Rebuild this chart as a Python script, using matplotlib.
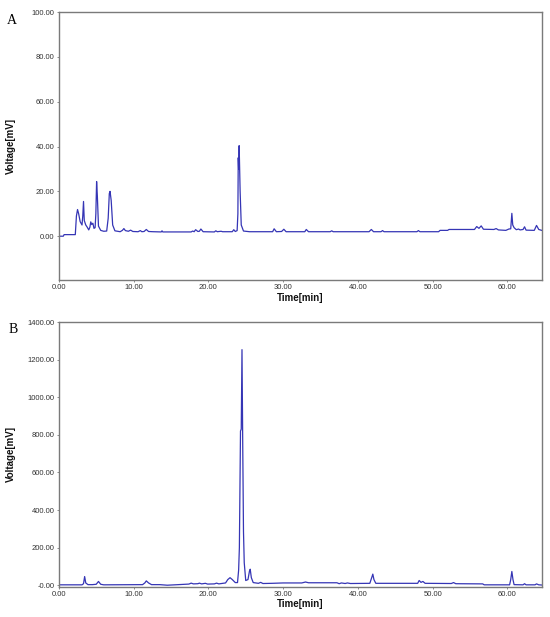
"""Two chromatograms (A and B), voltage vs retention time."""

import matplotlib
matplotlib.use("Agg")
import matplotlib.pyplot as plt

### Data: (time [min], voltage [mV]) vertices

time_a = [0.0, 0.6, 0.7, 2.2, 2.35, 2.5, 2.65, 2.85, 3.1, 3.2, 3.3, 3.4, 3.6, 3.8,
          4.0, 4.15, 4.27, 4.4, 4.55, 4.7, 4.85, 4.95, 5.05, 5.15, 5.3, 5.6, 6.0,
          6.4, 6.6, 6.75, 6.85, 7.0, 7.2, 7.5, 8.2, 8.5, 8.7, 8.9, 9.3, 9.6, 9.9,
          10.6, 10.9, 11.1, 11.4, 11.7, 12.0, 12.6, 13.7, 13.8, 13.9, 17.7, 17.9,
          18.1, 18.3, 18.6, 18.8, 19.0, 19.3, 20.8, 21.0, 21.2, 21.7, 21.9, 23.2,
          23.4, 23.6, 23.85, 23.95, 24.0, 24.05, 24.12, 24.25, 24.4, 24.7, 25.5,
          28.6, 28.8, 29.1, 29.8, 30.1, 30.4, 32.9, 33.1, 33.4, 36.3, 36.5, 36.7,
          41.5, 41.8, 42.1, 43.1, 43.3, 43.5, 47.9, 48.1, 48.3, 50.8, 51.0, 52.0,
          52.2, 55.6, 55.9, 56.2, 56.5, 56.8, 58.2, 58.5, 58.8, 59.8, 60.2, 60.45,
          60.6, 60.72, 60.9, 61.2, 61.5, 61.7, 62.1, 62.3, 62.5, 63.6, 63.9, 64.2,
          64.6]
volt_a = [0.0, 0.0, 0.7, 0.7, 9, 11.9, 10, 6.5, 5, 9, 15.5, 7, 5, 4,
          2.8, 4, 6.4, 5.2, 5.8, 3.5, 3.8, 10, 24.4, 18, 4.5, 2.6, 2.2,
          2.3, 8, 19, 20, 16, 5, 2.4, 2.0, 2.6, 3.4, 2.5, 2.2, 2.7, 2.1,
          2.0, 2.5, 2.0, 2.1, 3.0, 2.1, 2.0, 1.9, 2.4, 1.9, 1.9, 2.3,
          2.0, 2.9, 2.1, 2.2, 3.2, 2.0, 1.9, 2.4, 2.0, 2.2, 2.0, 2.0,
          2.9, 2.1, 2.5, 10, 35, 30, 40.4, 20, 5, 2.3, 2.0,
          2.0, 3.3, 2.0, 2.1, 3.1, 2.0, 2.0, 3.0, 2.0, 2.0, 2.4, 2.0,
          2.0, 3.0, 2.0, 2.0, 2.5, 2.0, 2.0, 2.5, 2.0, 2.0, 2.6, 2.6,
          3.0, 3.0, 4.3, 3.5, 4.6, 3.1, 3.0, 3.4, 2.8, 2.6, 3.2, 3.3,
          10.2, 5, 3.8, 2.9, 3.2, 2.8, 3.0, 4.2, 2.7, 2.6, 4.8, 3.0,
          2.6]

time_b = [0.0, 3.1, 3.3, 3.45, 3.6, 3.9, 4.5, 5.0, 5.3, 5.6, 6.0, 11.2, 11.5,
          11.7, 12.0, 12.4, 13.5, 14.5, 15.5, 17.4, 17.7, 18.0, 18.6, 18.8, 19.1,
          19.6, 19.9, 20.8, 21.1, 21.4, 22.3, 22.6, 22.9, 23.2, 23.6, 23.9, 24.05,
          24.15, 24.3, 24.4, 24.5, 24.6, 24.7, 24.8, 25.0, 25.3, 25.5, 25.6, 25.75,
          26.0, 26.7, 27.0, 27.3, 28.5, 30.0, 32.5, 33.0, 33.4, 37.2, 37.5, 37.8,
          38.3, 38.6, 39.0, 41.6, 41.85, 42.0, 42.15, 42.4, 48.0, 48.2, 48.45,
          48.7, 49.0, 52.5, 52.8, 53.1, 56.7, 56.9, 60.3, 60.45, 60.6, 60.75,
          60.9, 62.1, 62.3, 62.5, 63.7, 63.9, 64.2, 64.6]
volt_b = [2, 2, 8, 46, 12, 3, 3, 5, 20, 5, 2, 3, 12,
          23, 12, 3, 3, 0, 2, 6, 11, 7, 8, 11, 7,
          10, 6, 7, 11, 7, 12, 30, 40, 30, 14, 14, 80,
          200, 820, 830, 1253, 740, 285, 120, 25, 30, 75, 85, 40,
          14, 10, 15, 9, 10, 12, 12, 17, 13, 13, 8, 12,
          9, 12, 9, 10, 40, 59, 30, 10, 10, 25, 15,
          20, 10, 9, 14, 8, 7, 2, 2, 30, 73, 30,
          3, 2, 8, 2, 2, 7, 2, 1]

x_ticks = [0, 10, 20, 30, 40, 50, 60]
y_ticks_a = [0, 20, 40, 60, 80, 100]
y_ticks_b = [0, 200, 400, 600, 800, 1000, 1200, 1400]

line_color = '#3535b5'
frame_color = '#7a7a7a'
tick_font = dict(family='Liberation Sans', size=5.5, color='#333333')
label_font = dict(family='Liberation Sans', size=7, weight='bold', color='#111111')


def style_axes(ax, yticks, ylabels):
    ax.set_xlim(0, 64.6)
    ax.set_xticks(x_ticks)
    ax.set_xticklabels(['%.2f' % t for t in x_ticks], **tick_font)
    ax.set_yticks(yticks)
    ax.set_yticklabels(ylabels, **tick_font)
    ax.tick_params(axis='both', length=1.5, width=0.6, pad=1.5, color=frame_color)
    for s in ax.spines.values():
        s.set_color(frame_color)
        s.set_linewidth(1.0)
    ax.set_xlabel('Time[min]', labelpad=1, **label_font)
    ax.set_ylabel('Voltage[mV]', **label_font)
    ax.yaxis.set_label_coords(-0.089, 0.5)


fig = plt.figure(figsize=(5.5, 6.17), dpi=100)

ax_a = fig.add_axes([0.107, 0.546, 0.878, 0.4344])
ax_a.plot(time_a, volt_a, color=line_color, lw=0.9)
ax_a.set_ylim(-19.6, 100)
style_axes(ax_a, y_ticks_a, ['%.2f' % v for v in y_ticks_a])

ax_b = fig.add_axes([0.107, 0.0494, 0.878, 0.4287])
ax_b.plot(time_b, volt_b, color=line_color, lw=0.9)
ax_b.set_ylim(-7, 1400)
style_axes(ax_b, y_ticks_b, ['-0.00'] + ['%.2f' % v for v in y_ticks_b[1:]])

# panel letters
fig.text(0.013, 0.978, 'A', family='Liberation Serif', size=10, va='top')
fig.text(0.015, 0.476, 'B', family='Liberation Serif', size=10, va='top')

fig.savefig('out.png', dpi=100)
